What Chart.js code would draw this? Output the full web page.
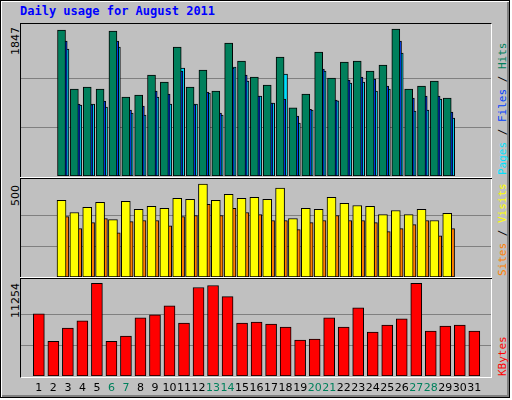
<!DOCTYPE html>
<html lang="en">
<head>
<meta charset="UTF-8">
<script src="https://cdn.jsdelivr.net/npm/chart.js"></script>
<title>Daily usage for August 2011</title>
<style>
  body { margin: 0; }
  #frame { position: absolute; left: 0; top: 0; width: 508px; height: 396px; background: #c0c0c0;
           border: 1px solid #000; box-shadow: inset 1px 1px 0 #fff, inset -2px -2px 0 #808080; }
  #plotbox { position: absolute; left: 20px; top: 23px; width: 470px; height: 353px; background: #c0c0c0;
             border-top: 1px solid #000; border-left: 1px solid #000; border-right: 1px solid #fff; border-bottom: 1px solid #fff; }
  .sep { position: absolute; left: 20px; width: 472px; height: 2px; border-top: 1px solid #fff; border-bottom: 1px solid #000; box-sizing: border-box; }
  canvas { position: absolute; }
  .txt { position: absolute; font-family: "DejaVu Sans Mono", monospace; font-size: 11px; white-space: nowrap; }
  .rot { transform: rotate(-90deg); transform-origin: left top; }
</style>
</head>
<body>
<div id="frame"></div>
<div id="plotbox"></div>
<div class="sep" style="top:177px"></div>
<div class="sep" style="top:277px"></div>
<div class="txt" style="left:20px;top:4px;color:#0000ff;font-weight:bold;font-size:12px">Daily usage for August 2011</div>
<div class="txt rot" style="left:9px;top:55px;color:#000;font-family:'DejaVu Sans';font-size:11px">1847</div>
<div class="txt rot" style="left:9px;top:206px;color:#000;font-family:'DejaVu Sans';font-size:11px">500</div>
<div class="txt rot" style="left:9px;top:318px;color:#000;font-family:'DejaVu Sans';font-size:11px">11254</div>
<div class="txt rot" style="left:496px;top:175px"><span style="color:#00e0ff">Pages</span><span style="color:#000"> / </span><span style="color:#0040ff">Files</span><span style="color:#000"> / </span><span style="color:#00805c">Hits</span></div>
<div class="txt rot" style="left:496px;top:276px"><span style="color:#ff8000">Sites</span><span style="color:#000"> / </span><span style="color:#ffff00">Visits</span></div>
<div class="txt rot" style="left:496px;top:376px;color:#ff0000">KBytes</div>
<canvas id="c1" width="470" height="152" style="left:21px;top:24px"></canvas>
<canvas id="c2" width="470" height="97" style="left:21px;top:180px"></canvas>
<canvas id="c3" width="470" height="116" style="left:21px;top:280px"></canvas>
<script>
const days = Array.from({length: 31}, (_, i) => i + 1);
const weekendDays = [6, 7, 13, 14, 20, 21, 27, 28];
const hits = [1834,1093,1118,1093,1822,993,1018,1269,1181,1621,1118,1332,1068,1671,1445,1244,1143,1495,858,1030,1558,1231,1432,1445,1319,1394,1847,1093,1131,1194,980];
const files = [1696,905,896,942,1696,829,880,1068,1030,1319,896,1055,792,1357,1269,1005,917,967,754,838,1344,955,1206,1244,1218,1131,1696,980,1005,1005,804];
const pages = [1596,892,905,867,1621,792,767,993,905,1357,905,1043,767,1370,1194,1005,917,1281,666,829,1319,943,1168,1181,1068,1093,1546,817,829,967,729];
const visits = [413,347,375,402,309,407,364,380,369,424,418,500,413,445,424,429,418,478,315,369,364,429,396,385,380,336,358,336,364,304,342];
const sites = [325,260,293,315,238,298,304,304,276,325,331,391,331,369,347,336,304,304,255,293,304,331,304,304,293,244,260,282,304,222,260];
const kbytes = [7557,4230,5832,6694,11254,4230,4846,7064,7434,8543,6448,10760,11007,9651,6448,6571,6325,5955,4353,4477,7064,5955,8296,5339,6202,6941,11254,5462,6078,6202,5462];

Chart.defaults.animation = false;
Chart.defaults.devicePixelRatio = 1;

const pts = arr => arr.map((v, i) => ({x: days[i], y: v}));
const span = 470 / 15;
const xAxis = min => ({type: 'linear', display: false, min: min, max: min + span});
const yAxis = (top, max) => ({
  display: true, min: 0, max: max, border: {display: false},
  ticks: {display: false}, grid: {color: '#808080', drawTicks: false},
  afterBuildTicks: a => { a.ticks = [{value: top / 3}, {value: 2 * top / 3}]; },
  afterFit: a => { a.width = 0; }
});
const bar = (label, arr, color, axis, w) => ({
  label: label, data: pts(arr), xAxisID: axis, backgroundColor: color, grouped: false,
  borderColor: '#000', borderWidth: 1, borderSkipped: false, barThickness: w
});
const base = {responsive: false, layout: {padding: 0}, plugins: {legend: {display: false}, tooltip: {enabled: false}}};

new Chart(document.getElementById('c1'), {
  type: 'bar',
  data: {datasets: [
    bar('Hits', hits, '#00805c', 'xh', 8),
    bar('Files', files, '#0040ff', 'xf', 8),
    bar('Pages', pages, '#00e0ff', 'xp', 8)
  ]},
  options: {...base, scales: {xh: xAxis(0.46), xf: xAxis(0.327), xp: xAxis(0.193), y: yAxis(1847, 1910)}}
});

new Chart(document.getElementById('c2'), {
  type: 'bar',
  data: {datasets: [
    bar('Visits', visits, '#ffff00', 'xv', 9),
    bar('Sites', sites, '#ff8000', 'xs', 8)
  ]},
  options: {...base, scales: {xv: xAxis(0.46), xs: xAxis(0.2), y: yAxis(500, 522)}}
});

new Chart(document.getElementById('c3'), {
  type: 'bar',
  data: {datasets: [bar('KBytes', kbytes, '#ff0000', 'xk', 11)]},
  options: {...base, scales: {
    xk: {...xAxis(0.293), display: true, position: 'bottom', border: {display: false}, grid: {display: false, drawTicks: false},
      ticks: {font: {family: 'DejaVu Sans', size: 11}, padding: 6, maxRotation: 0, autoSkip: false,
        color: c => weekendDays.includes(c.tick.value) ? '#00805c' : '#000'},
      afterBuildTicks: a => { a.ticks = days.map(d => ({value: d})); },
      afterFit: a => { a.height = 20; a.paddingLeft = 0; a.paddingRight = 0; }},
    y: yAxis(11254, 11673)
  }}
});
</script>
</body>
</html>
